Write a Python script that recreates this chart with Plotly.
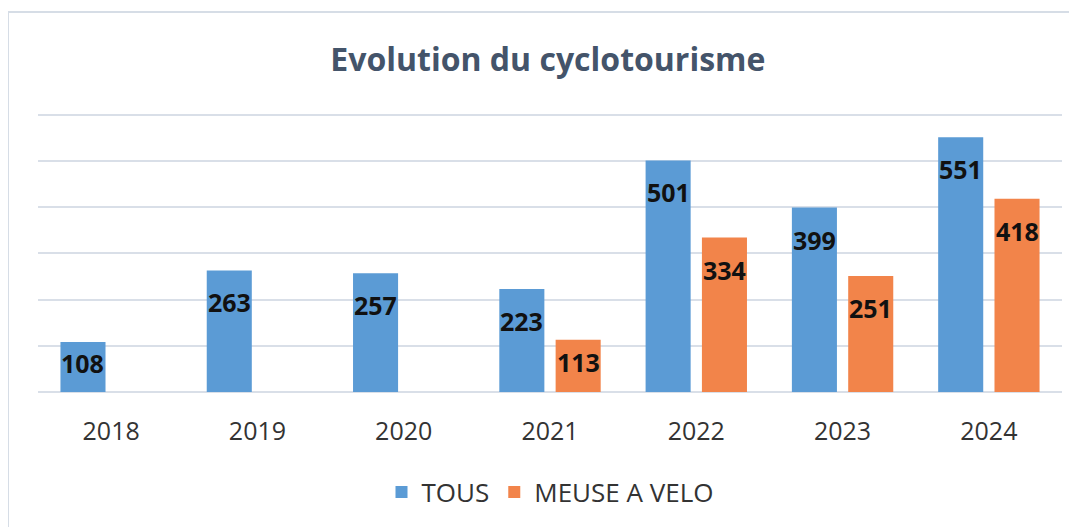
import plotly.graph_objects as go

years = ["2018", "2019", "2020", "2021", "2022", "2023", "2024"]
tous = [108, 263, 257, 223, 501, 399, 551]
meuse = [None, None, None, 113, 334, 251, 418]
series_names = ["TOUS", "MEUSE A VELO"]
title_text = "Evolution du cyclotourisme"

BLUE = "#5b9bd5"
ORANGE = "#f2844a"
GRID = "#d9dfe8"
FONT = "Open Sans"

# page has an 8px body margin; figure sized to fit the window
W, H = 1069, 519
YMAX = 610
L, R, B = 30, 15, 135
ph = round(YMAX * 277 / 600)
T = H - B - ph
pw = W - L - R
BARGAP, GROUPGAP = 0.23, 0.2
px_per_unit = ph / YMAX
slot = pw / len(years) * (1 - BARGAP) / 2
label_drop = 32 / px_per_unit  # label centre ~32px under the bar top

fig = go.Figure()
annotations = []
for k, (name, vals, col) in enumerate([(series_names[0], tous, BLUE), (series_names[1], meuse, ORANGE)]):
    fig.add_trace(go.Bar(
        x=years, y=vals, name=name,
        marker=dict(color=col, line=dict(width=0)),
        hoverinfo="skip",
    ))
    xshift = (k - 0.5) * slot
    for i, v in enumerate(vals):
        if v is None:
            continue
        annotations.append(dict(
            x=i, y=max(v - label_drop, v * 0.58), xref="x", yref="y",
            text=str(v), showarrow=False, xshift=xshift,
            xanchor="center", yanchor="middle",
            font=dict(family=FONT, size=25, color="#111111", weight="bold"),
        ))

fig.update_layout(
    width=W, height=H,
    margin=dict(l=L, r=R, t=T, b=B),
    paper_bgcolor="white", plot_bgcolor="white",
    barmode="group", bargap=BARGAP, bargroupgap=GROUPGAP,
    title=dict(text=title_text, x=0.505, xanchor="center", y=1 - 52 / H, yanchor="middle",
               font=dict(family=FONT, size=32, color="#44546a", weight="bold")),
    xaxis=dict(type="category", range=[-0.5, len(years) - 0.5],
               showgrid=False, zeroline=False, showline=False, ticks="",
               ticklabelstandoff=22,
               tickfont=dict(family=FONT, size=25, color="#333333")),
    yaxis=dict(range=[0, YMAX], tickvals=[0, 100, 200, 300, 400, 500, 600],
               showticklabels=False, showgrid=True,
               gridcolor=GRID, gridwidth=1.5, zeroline=True, zerolinecolor=GRID,
               zerolinewidth=1.5, showline=False),
    legend=dict(orientation="h", x=0.5, xanchor="center", y=-100 / ph, yanchor="middle",
                font=dict(family=FONT, size=26, color="#333333"), itemwidth=30,
                traceorder="normal"),
    showlegend=True,
    annotations=annotations,
    shapes=[dict(type="rect", xref="paper", yref="paper",
                 x0=(0 - L) / pw, x1=(W + 20 - L) / pw,
                 y0=-(H + 20 - (H - B)) / ph, y1=(H - B - 4) / ph,
                 line=dict(color="#d6dde6", width=2), fillcolor="rgba(0,0,0,0)", layer="below")],
)

fig.write_html("out.html")
